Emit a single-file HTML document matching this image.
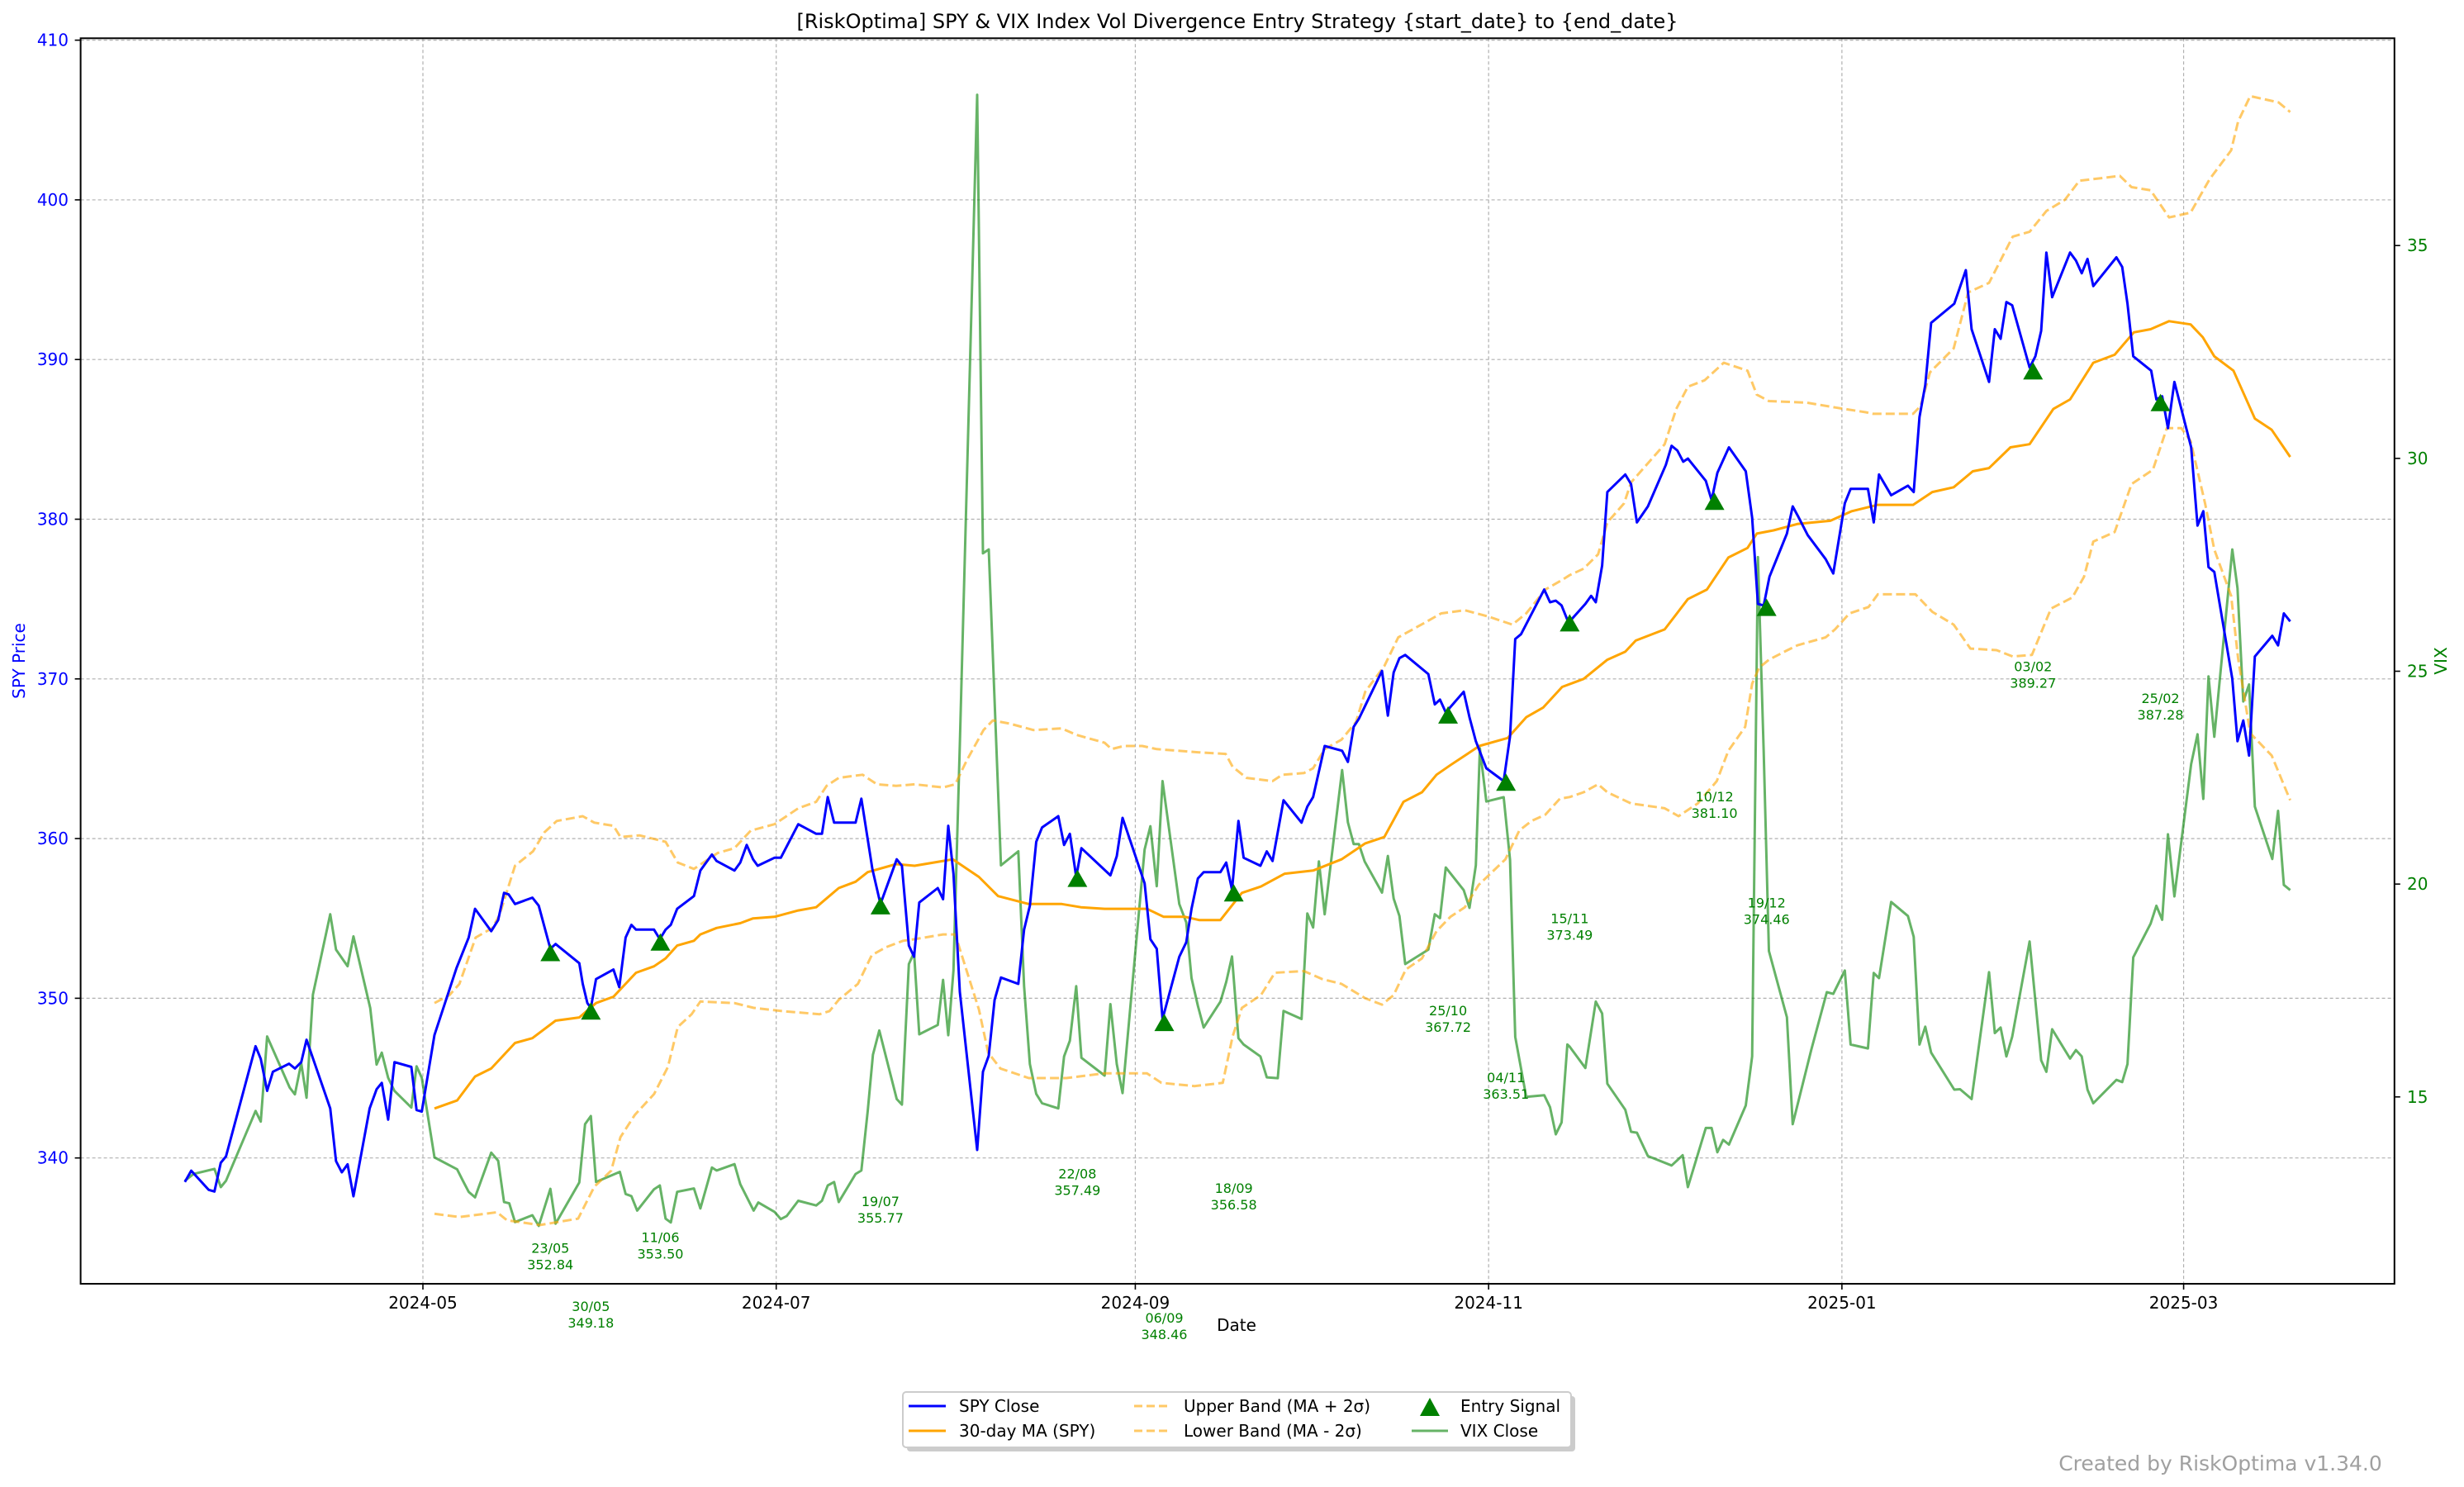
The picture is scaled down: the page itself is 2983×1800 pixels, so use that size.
<!DOCTYPE html>
<html>
<head>
<meta charset="utf-8">
<style>
  html,body{margin:0;padding:0;background:#fff;}
  svg{display:block;font-family:"DejaVu Sans","Liberation Sans",sans-serif;}
</style>
</head>
<body>
<svg id="chart" xmlns="http://www.w3.org/2000/svg" width="2983" height="1800" viewBox="0 0 2983 1800">
  <rect x="0" y="0" width="2983" height="1800" fill="#ffffff"/>
  <text x="1498" y="34" text-anchor="middle" font-size="24" fill="#000">[RiskOptima] SPY &amp; VIX Index Vol Divergence Entry Strategy {start_date} to {end_date}</text>
  <g id="grid"></g>
  <g id="plot"></g>
  <g id="axes"></g>
  <text x="1497" y="1611" text-anchor="middle" font-size="20" fill="#000">Date</text>
  <text transform="translate(30,800) rotate(-90)" text-anchor="middle" font-size="20" fill="#0000ff">SPY Price</text>
  <text transform="translate(2962,800) rotate(-90)" text-anchor="middle" font-size="20" fill="#008000">VIX</text>

  <g>
    <rect x="1098" y="1690" width="809" height="67" rx="4" fill="#999" opacity="0.5"/>
    <rect x="1093" y="1685" width="809" height="67" rx="4" fill="#fff" stroke="#cccccc" stroke-width="2"/>
    <g>
      <line x1="1100" y1="1702" x2="1145" y2="1702" stroke="#0000ff" stroke-width="3"/>
      <text x="1161" y="1709" font-size="20">SPY Close</text>
    </g>
    <g>
      <line x1="1100" y1="1732" x2="1145" y2="1732" stroke="#ffa500" stroke-width="3"/>
      <text x="1161" y="1739" font-size="20">30-day MA (SPY)</text>
    </g>
    <g>
      <line x1="1373" y1="1702" x2="1416" y2="1702" stroke="#ffa500" stroke-opacity="0.6" stroke-width="3" stroke-dasharray="10,5"/>
      <text x="1433" y="1709" font-size="20">Upper Band (MA + 2σ)</text>
    </g>
    <g>
      <line x1="1373" y1="1732" x2="1416" y2="1732" stroke="#ffa500" stroke-opacity="0.6" stroke-width="3" stroke-dasharray="10,5"/>
      <text x="1433" y="1739" font-size="20">Lower Band (MA - 2σ)</text>
    </g>
    <g>
      <polygon points="1731,1692 1743,1714 1719,1714" fill="#008000"/>
      <text x="1768" y="1709" font-size="20">Entry Signal</text>
    </g>
    <g>
      <line x1="1709" y1="1732" x2="1753" y2="1732" stroke="#008000" stroke-opacity="0.6" stroke-width="3"/>
      <text x="1768" y="1739" font-size="20">VIX Close</text>
    </g>
  </g>
  <text x="2688" y="1780" text-anchor="middle" font-size="25" fill="#a0a0a0">Created by RiskOptima v1.34.0</text>
</svg>
<script>
// ---- data (days are offsets from 2024-05-01) ----
const spyDays = [-41.1,-40.0,-37.0,-36.0,-34.9,-34.0,-28.9,-28.0,-26.9,-25.9,-23.1,-22.1,-21.0,-20.1,-16.0,-15.0,-14.0,-13.0,-12.0,-9.2,-8.0,-7.1,-6.0,-4.9,-2.0,-1.1,-0.2,2.0,5.8,7.9,9.0,11.8,13.0,14.0,14.8,15.9,18.9,20.0,22.0,22.9,27.0,27.6,28.4,29.0,29.9,32.9,33.9,35.0,36.0,36.8,39.9,40.9,41.9,42.8,43.9,46.8,47.9,49.9,50.7,53.8,54.8,55.9,57.0,57.8,60.7,61.8,64.8,67.9,68.9,69.9,71.0,74.7,75.7,77.6,79.0,81.8,82.7,83.9,84.8,85.7,88.9,89.8,90.7,91.6,92.7,95.7,96.7,97.7,98.7,99.8,102.8,103.8,104.8,105.9,106.9,109.7,110.7,111.7,112.8,113.7,118.7,119.8,120.8,124.6,125.6,126.7,127.7,130.6,131.8,132.7,133.8,134.8,137.7,138.7,139.7,140.8,141.7,144.6,145.7,146.7,148.6,151.7,152.7,153.7,155.7,158.7,159.7,160.7,161.6,165.6,166.6,167.6,168.6,169.6,173.6,174.7,175.6,176.6,179.7,180.7,181.8,183.6,186.6,187.7,188.6,189.6,193.6,194.6,195.6,196.6,197.6,198.0,200.7,201.7,202.5,203.6,204.5,207.6,208.6,209.6,211.5,214.6,215.6,216.6,217.6,218.4,221.5,222.5,223.5,225.5,228.4,229.5,230.5,231.5,232.5,235.5,236.5,237.4,239.1,242.2,243.5,245.5,246.5,249.5,250.5,251.4,253.5,256.4,257.4,258.4,259.4,260.4,264.4,266.4,267.4,270.4,271.4,272.4,273.4,274.4,277.4,278.4,279.4,280.3,281.3,284.4,285.4,286.4,287.4,288.4,292.4,293.4,294.3,295.3,298.4,299.3,300.3,301.3,302.4,305.3,306.4,307.4,308.3,309.3,312.4,313.3,314.3,315.3,316.3,319.3,320.3,321.3,322.4];
const spyClose = [338.5,339.2,338.0,337.9,339.7,340.1,347.0,346.2,344.2,345.4,345.9,345.6,346.0,347.4,343.1,339.8,339.1,339.6,337.6,343.1,344.3,344.7,342.4,346.0,345.7,343.0,342.9,347.7,351.9,353.8,355.6,354.2,354.9,356.6,356.5,355.9,356.3,355.8,353.1,353.4,352.2,350.9,349.7,349.4,351.2,351.8,350.7,353.8,354.6,354.3,354.3,353.7,354.3,354.6,355.6,356.4,358.0,359.0,358.6,358.0,358.5,359.6,358.7,358.3,358.8,358.8,360.9,360.3,360.3,362.6,361.0,361.0,362.5,358.1,355.9,358.7,358.3,353.3,352.6,356.0,356.9,356.2,360.8,357.8,350.4,340.5,345.4,346.4,349.9,351.3,350.9,354.3,355.8,359.8,360.7,361.4,359.6,360.3,357.6,359.4,357.7,358.9,361.3,357.2,353.7,353.1,348.7,352.6,353.5,355.6,357.5,357.9,357.9,358.5,356.8,361.1,358.8,358.3,359.2,358.6,362.4,361.0,362.0,362.6,365.8,365.5,364.8,367.0,367.5,370.5,367.7,370.4,371.3,371.5,370.3,368.4,368.7,367.9,369.2,367.6,366.1,364.4,363.6,366.4,372.5,372.8,375.6,374.8,374.9,374.6,373.7,373.6,374.7,375.2,374.8,377.1,381.7,382.8,382.2,379.8,380.8,383.4,384.6,384.3,383.6,383.8,382.4,381.2,382.9,384.5,383.0,380.1,374.7,374.6,376.4,379.1,380.8,380.2,379.0,377.5,376.6,381.0,381.9,381.9,379.8,382.8,381.5,382.1,381.7,386.4,388.4,392.3,393.5,395.6,391.9,388.6,391.9,391.3,393.6,393.4,389.5,390.2,391.8,396.7,393.9,396.7,396.2,395.4,396.3,394.6,396.4,395.8,393.5,390.2,389.3,387.5,387.7,385.7,388.6,384.5,379.6,380.5,377.0,376.7,370.0,366.1,367.4,365.2,371.4,372.7,372.1,374.1,373.6];

const maDays = [2.0,5.9,9.0,11.8,15.9,18.9,22.9,27.0,29.9,32.9,36.8,39.9,41.9,43.9,46.8,47.9,50.7,54.8,57.0,60.7,64.8,67.9,71.8,74.7,76.8,81.7,84.9,91.5,96.0,99.3,104.6,110.3,113.6,117.7,121.0,125.0,127.9,131.6,134.0,137.7,141.4,144.7,148.8,153.7,158.6,162.7,166.0,169.3,172.5,175.0,177.4,182.4,187.3,190.5,193.4,196.7,200.4,204.5,207.6,209.4,214.4,218.4,221.7,225.4,228.7,230.3,233.2,237.3,243.0,246.7,251.2,257.3,260.6,264.3,267.6,270.4,274.1,277.4,281.5,284.4,288.4,292.1,295.4,298.3,301.5,305.2,307.3,309.3,312.6,316.3,319.2,322.4];
const maValues = [343.1,343.6,345.1,345.6,347.2,347.5,348.6,348.8,349.7,350.1,351.6,352.0,352.5,353.3,353.6,354.0,354.4,354.7,355.0,355.1,355.5,355.7,356.9,357.3,357.9,358.4,358.3,358.7,357.6,356.4,355.9,355.9,355.7,355.6,355.6,355.6,355.1,355.1,354.9,354.9,356.6,357.0,357.8,358.0,358.7,359.7,360.1,362.3,362.9,364.0,364.6,365.8,366.3,367.6,368.2,369.5,370.0,371.2,371.7,372.4,373.1,375.0,375.6,377.6,378.2,379.1,379.3,379.7,379.9,380.5,380.9,380.9,381.7,382.0,383.0,383.2,384.5,384.7,386.9,387.5,389.8,390.3,391.7,391.9,392.4,392.2,391.4,390.2,389.3,386.3,385.6,383.9];

const upperDays = [2.0,4.6,6.3,9.1,12.0,13.2,15.9,19.0,21.0,23.1,27.6,29.6,32.9,34.1,37.4,41.9,44.0,46.8,50.9,53.8,56.6,60.7,64.8,67.9,69.7,71.8,75.9,78.4,81.7,84.9,89.8,91.9,93.9,96.8,98.4,101.3,105.4,110.3,112.8,117.7,118.9,121.0,124.2,126.7,134.0,138.6,139.8,142.2,146.7,148.4,152.1,153.7,155.7,158.6,161.1,162.7,166.0,168.4,172.9,175.8,179.9,184.0,188.1,190.5,193.8,196.7,198.0,200.4,202.9,204.5,207.4,208.6,214.4,216.4,218.4,221.3,224.6,228.7,230.3,232.4,238.9,243.8,249.1,250.4,257.3,258.6,260.2,264.3,266.8,270.4,274.5,277.4,280.3,283.5,286.0,288.4,293.0,295.0,298.3,301.5,305.2,308.5,312.2,313.4,315.5,320.4,322.4];
const upperValues = [349.7,350.2,350.9,353.8,354.4,355.2,358.3,359.2,360.4,361.1,361.4,361.0,360.8,360.1,360.2,359.8,358.5,358.1,359.1,359.4,360.5,360.9,361.9,362.3,363.3,363.8,364.0,363.4,363.3,363.4,363.2,363.4,364.9,366.8,367.4,367.2,366.8,366.9,366.5,366.0,365.6,365.8,365.8,365.6,365.4,365.3,364.5,363.8,363.6,364.0,364.1,364.4,365.6,366.2,367.3,369.2,370.8,372.6,373.5,374.1,374.3,373.9,373.4,374.1,375.6,376.2,376.5,376.9,377.8,379.8,381.0,382.3,384.7,386.9,388.3,388.7,389.8,389.3,387.8,387.4,387.3,387.0,386.7,386.6,386.6,387.1,389.2,390.7,394.2,394.8,397.7,398.0,399.3,400.0,401.2,401.3,401.5,400.8,400.6,398.9,399.2,401.3,403.1,404.9,406.5,406.1,405.5];

const lowerDays = [2.0,6.3,12.8,14.5,20.2,23.5,26.8,29.6,32.5,34.1,36.6,39.9,42.3,44.0,46.4,47.9,53.8,57.1,62.0,68.5,70.2,71.8,75.1,77.5,80.0,82.9,84.9,89.8,91.9,93.9,96.0,97.6,99.7,104.6,111.1,117.7,125.0,127.5,133.2,138.1,139.8,141.4,144.7,147.1,152.1,155.3,158.6,162.7,165.6,167.6,169.7,172.5,175.0,177.4,179.9,182.3,186.9,189.3,191.4,193.8,196.3,198.0,200.4,202.9,204.5,208.6,214.4,216.8,220.1,223.4,225.4,228.3,229.5,230.7,232.4,235.6,237.3,242.2,243.8,246.3,249.6,251.2,257.7,260.6,264.3,267.2,271.7,274.5,277.8,281.1,284.8,286.8,288.4,292.1,295.0,298.7,301.1,303.6,305.2,307.7,309.3,312.2,313.4,315.5,319.2,322.4];
const lowerValues = [336.5,336.3,336.6,336.1,335.8,336.0,336.2,338.2,339.2,341.3,342.7,344.0,345.7,348.2,349.0,349.8,349.7,349.4,349.2,349.0,349.2,349.9,350.9,352.7,353.2,353.6,353.7,354.0,354.0,351.7,349.3,346.6,345.6,345.0,345.0,345.3,345.3,344.7,344.5,344.7,347.6,349.4,350.2,351.6,351.7,351.2,350.9,350.0,349.6,350.2,351.8,352.5,354.2,355.1,355.7,357.1,358.7,360.5,361.1,361.5,362.5,362.6,362.9,363.4,362.9,362.2,361.9,361.4,362.2,363.6,365.5,367.0,369.7,370.7,371.2,371.8,372.1,372.6,373.1,374.1,374.5,375.3,375.3,374.2,373.4,371.9,371.8,371.4,371.5,374.4,375.1,376.4,378.6,379.2,382.2,383.1,385.7,385.7,384.9,381.0,378.1,375.2,371.3,366.6,365.2,362.4];

const vixDays = [-41.1,-39.6,-36.0,-34.9,-34.0,-28.9,-28.0,-26.9,-23.0,-22.1,-21.0,-20.1,-19.0,-16.0,-15.0,-13.0,-12.0,-9.1,-8.0,-7.1,-6.0,-4.9,-2.0,-1.1,-0.2,2.0,5.9,6.9,7.9,9.0,11.8,13.0,14.0,14.9,15.9,18.9,20.0,22.0,22.9,27.0,28.0,29.0,29.9,34.0,35.0,36.0,37.0,39.9,40.9,41.9,42.8,43.9,46.8,47.9,49.9,50.7,53.8,54.8,57.1,57.9,60.7,61.8,62.8,64.8,67.9,68.9,69.9,71.0,71.8,74.7,75.7,76.8,77.7,78.8,81.8,82.7,83.9,84.8,85.7,88.9,89.8,90.7,91.6,92.7,95.7,96.7,97.7,99.8,102.8,103.8,104.8,105.9,106.9,109.7,110.7,111.7,112.8,113.7,117.7,118.7,119.8,120.8,124.6,125.6,126.7,127.7,130.6,131.8,132.7,133.8,134.8,137.7,138.7,139.7,140.8,141.7,144.6,145.7,147.6,148.6,151.7,152.7,153.7,154.7,155.7,158.7,159.7,160.7,161.6,162.6,165.6,166.6,167.6,168.6,169.6,173.6,174.7,175.6,176.6,179.7,180.7,181.8,182.5,183.6,186.6,187.7,188.6,190.5,193.6,194.6,195.6,196.6,197.6,198.0,200.7,202.5,203.6,204.5,207.6,208.6,209.6,211.5,215.6,217.5,218.4,221.5,222.5,223.5,224.5,225.5,228.4,229.5,230.5,231.5,232.4,235.5,236.5,239.7,242.4,243.5,245.5,246.5,249.5,250.5,251.4,253.5,256.4,257.4,258.4,259.4,260.4,264.4,265.4,267.4,270.4,271.4,272.4,273.4,274.4,277.4,279.4,280.3,281.3,284.4,285.4,286.4,287.4,288.4,292.4,293.4,294.3,295.3,298.3,299.3,300.3,301.3,302.4,305.3,306.4,307.4,308.3,309.3,312.4,313.3,314.3,315.3,316.3,319.3,320.3,321.3,322.4];
const vixClose = [13.03,13.19,13.31,12.88,13.03,14.67,14.42,16.42,15.22,15.06,15.79,14.98,17.40,19.29,18.46,18.07,18.77,17.09,15.76,16.04,15.45,15.14,14.75,15.72,15.45,13.58,13.30,13.03,12.77,12.64,13.69,13.50,12.53,12.50,12.06,12.22,11.97,12.84,12.02,12.99,14.36,14.55,13.00,13.24,12.72,12.67,12.33,12.83,12.92,12.14,12.05,12.77,12.85,12.38,13.34,13.27,13.42,12.95,12.33,12.52,12.30,12.13,12.20,12.56,12.45,12.56,12.92,13.00,12.53,13.19,13.27,14.67,15.99,16.56,14.95,14.82,18.12,18.39,16.47,16.69,17.75,16.45,17.97,23.28,38.54,27.77,27.86,20.44,20.77,17.60,15.77,15.07,14.85,14.73,15.95,16.32,17.60,15.92,15.50,17.18,15.77,15.09,20.81,21.36,19.95,22.42,19.53,19.10,17.79,17.14,16.63,17.24,17.70,18.30,16.38,16.23,15.95,15.46,15.44,17.02,16.83,19.31,18.98,20.53,19.29,22.68,21.45,20.94,20.94,20.53,19.80,20.66,19.66,19.25,18.12,18.46,19.29,19.20,20.39,19.86,19.44,20.44,23.19,21.94,22.04,20.57,16.41,15.00,15.04,14.76,14.12,14.40,16.23,16.18,15.68,17.24,16.96,15.31,14.70,14.18,14.16,13.61,13.39,13.63,12.88,14.27,14.27,13.70,13.99,13.88,14.80,15.95,27.68,23.10,18.43,16.87,14.36,16.10,17.46,17.42,17.97,16.23,16.14,17.91,17.79,19.58,19.25,18.76,16.23,16.65,16.04,15.17,15.18,14.95,17.93,16.50,16.63,15.95,16.41,18.65,15.86,15.59,16.59,15.90,16.10,15.95,15.17,14.85,15.40,15.35,15.77,18.28,19.07,19.49,19.16,21.17,19.71,22.82,23.52,22.00,24.88,23.46,27.86,26.95,24.29,24.69,21.82,20.59,21.72,19.98,19.86];

const signalDates = ["2024-05-23","2024-05-30","2024-06-11","2024-07-19","2024-08-22","2024-09-06","2024-09-18","2024-10-25","2024-11-04","2024-11-15","2024-12-10","2024-12-19","2025-02-03","2025-02-25"];
const signalPrices = [352.84,349.18,353.50,355.77,357.49,348.46,356.58,367.72,363.51,373.49,381.10,374.46,389.27,387.28];

const xTickLabels = ["2024-05","2024-07","2024-09","2024-11","2025-01","2025-03"];
const leftTicks = [340,350,360,370,380,390,400,410];
const rightTicks = [15,20,25,30,35];

// ---- scales ----
const PX0=97.6, PX1=2898.8, PY0=46.3, PY1=1554;
const DMIN=-59.1, DMAX=340.4;
const LMIN=332.12, LMAX=410.12;
const RMIN=10.61, RMAX=39.87;
const NS="http://www.w3.org/2000/svg";
function xs(d){return PX0+(d-DMIN)/(DMAX-DMIN)*(PX1-PX0);}
function yl(v){return PY1-(v-LMIN)/(LMAX-LMIN)*(PY1-PY0);}
function yr(v){return PY1-(v-RMIN)/(RMAX-RMIN)*(PY1-PY0);}
function dayOf(s){const p=s.split("-").map(Number);return (Date.UTC(p[0],p[1]-1,p[2]||1)-Date.UTC(2024,4,1))/864e5;}
function mk(tag,attrs,parent){const e=document.createElementNS(NS,tag);for(const k in attrs)e.setAttribute(k,attrs[k]);parent.appendChild(e);return e;}

const grid=document.getElementById("grid");
const plot=document.getElementById("plot");
const axes=document.getElementById("axes");

// grid
xTickLabels.forEach(t=>{
  const x=xs(dayOf(t+"-01"));
  const l=mk("line",{x1:x,y1:PY0,x2:x,y2:PY1,stroke:"#b0b0b0","stroke-width":1.2,"stroke-dasharray":"4,3"},grid);
  
  
});
leftTicks.forEach(v=>{
  const y=yl(v);
  const l=mk("line",{x1:PX0,y1:y,x2:PX1,y2:y,stroke:"#b0b0b0","stroke-width":1.2,"stroke-dasharray":"4,3"},grid);
  
  
});

// clip
const defs=mk("defs",{},plot);
const cp=mk("clipPath",{id:"clip"},defs);
mk("rect",{x:PX0,y:PY0,width:PX1-PX0,height:PY1-PY0},cp);

function path(days,vals,yf,attrs,name){
  let d="";
  for(let i=0;i<days.length;i++){d+=(i?"L":"M")+xs(days[i]).toFixed(1)+","+yf(vals[i]).toFixed(1);}
  const p=mk("path",Object.assign({d:d,fill:"none","stroke-linejoin":"round","clip-path":"url(#clip)"},attrs),plot);
  
  
  return p;
}
path(vixDays,vixClose,yr,{stroke:"#008000","stroke-opacity":0.6,"stroke-width":3},"vix-close-line");
path(upperDays,upperValues,yl,{stroke:"#ffa500","stroke-opacity":0.6,"stroke-width":3,"stroke-dasharray":"11,5"},"upper-band-line");
path(lowerDays,lowerValues,yl,{stroke:"#ffa500","stroke-opacity":0.6,"stroke-width":3,"stroke-dasharray":"11,5"},"lower-band-line");
path(maDays,maValues,yl,{stroke:"#ffa500","stroke-width":3},"ma-30-line");
path(spyDays,spyClose,yl,{stroke:"#0000ff","stroke-width":3},"spy-close-line");

// signals
signalDates.forEach((s,i)=>{
  const x=xs(dayOf(s)), y=yl(signalPrices[i]);
  const t=mk("polygon",{points:(x)+","+(y-11)+" "+(x+12)+","+(y+10)+" "+(x-12)+","+(y+10),fill:"#008000"},plot);
  
  
  const p=s.split("-");
  const lab=mk("text",{x:x,"text-anchor":"middle","font-size":16,fill:"#008000"},plot);
  
  
  const t1=mk("tspan",{x:x,y:y+363},lab); t1.textContent=p[2]+"/"+p[1];
  const t2=mk("tspan",{x:x,y:y+383},lab); t2.textContent=signalPrices[i].toFixed(2);
});

// spines
const frame=mk("rect",{x:PX0,y:PY0,width:PX1-PX0,height:PY1-PY0,fill:"none",stroke:"#000","stroke-width":2},axes);



// x ticks
xTickLabels.forEach(t=>{
  const x=xs(dayOf(t+"-01"));
  const tk=mk("line",{x1:x,y1:PY1,x2:x,y2:PY1+7,stroke:"#000","stroke-width":1.6},axes);
  
  
  const tx=mk("text",{x:x,y:1584,"text-anchor":"middle","font-size":20,fill:"#000"},axes);
  
  
  tx.textContent=t;
});
// left ticks
leftTicks.forEach(v=>{
  const y=yl(v);
  const tk=mk("line",{x1:PX0-7,y1:y,x2:PX0,y2:y,stroke:"#000","stroke-width":1.6},axes);
  
  
  const tx=mk("text",{x:83,y:y+7,"text-anchor":"end","font-size":20,fill:"#0000ff"},axes);
  
  
  tx.textContent=v;
});
// right ticks
rightTicks.forEach(v=>{
  const y=yr(v);
  const tk=mk("line",{x1:PX1,y1:y,x2:PX1+7,y2:y,stroke:"#000","stroke-width":1.6},axes);
  
  
  const tx=mk("text",{x:2914,y:y+7,"text-anchor":"start","font-size":20,fill:"#008000"},axes);
  
  
  tx.textContent=v;
});
</script>
</body>
</html>
